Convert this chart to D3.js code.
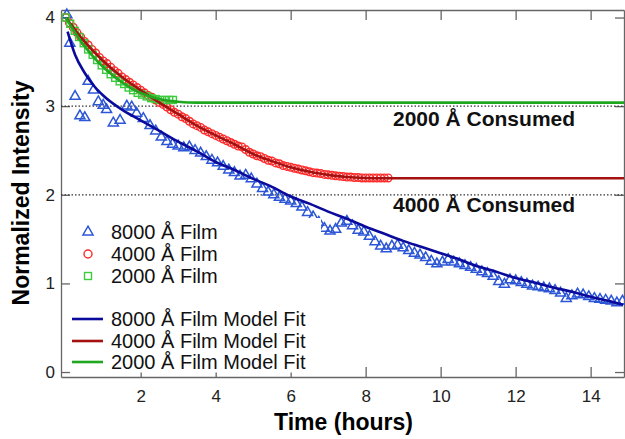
<!DOCTYPE html>
<html>
<head>
<meta charset="utf-8">
<script src="https://cdn.jsdelivr.net/npm/d3@7"></script>
<style>
  body { margin: 0; background: #fff; }
  svg text { font-family: "Liberation Sans", Arial, Helvetica, sans-serif; }
</style>
</head>
<body>
<div id="chart"></div>
<script>
// Tick values
var xTicks = [2, 4, 6, 8, 10, 12, 14];
var yTicks = [0, 1, 2, 3, 4];

// Horizontal reference levels and their labels
var consumedLevels = [3, 2];
var consumedLabels = ["2000 Å Consumed", "4000 Å Consumed"];

// Legend labels
var markerLabels = ["8000 Å Film", "4000 Å Film", "2000 Å Film"];
var fitLabels = ["8000 Å Film Model Fit", "4000 Å Film Model Fit", "2000 Å Film Model Fit"];

// 8000 A film data [hours, intensity]
var film8000 = [
  [0.03, 4.03], [0.11, 3.71], [0.25, 3.11], [0.38, 2.89], [0.51, 2.87], [0.60, 3.28],
  [0.74, 3.18], [0.87, 3.05], [1.00, 3.01], [1.09, 2.96], [1.27, 2.81], [1.45, 2.84],
  [1.63, 3.00], [1.76, 2.99], [1.89, 2.92], [2.07, 2.86], [2.25, 2.78], [2.40, 2.72],
  [2.55, 2.65], [2.70, 2.60], [2.85, 2.57], [3.00, 2.55], [3.15, 2.53], [3.30, 2.54],
  [3.45, 2.50], [3.60, 2.47], [3.75, 2.43], [3.90, 2.39], [4.05, 2.36], [4.20, 2.32],
  [4.35, 2.28], [4.50, 2.25], [4.65, 2.21], [4.80, 2.22], [4.95, 2.18], [5.10, 2.12],
  [5.25, 2.07], [5.40, 2.03], [5.55, 2.00], [5.70, 1.97], [5.85, 1.95], [6.00, 1.93],
  [6.15, 1.90], [6.30, 1.86], [6.45, 1.80], [6.60, 1.75], [6.75, 1.69], [6.90, 1.62],
  [7.05, 1.59], [7.20, 1.61], [7.35, 1.68], [7.50, 1.70], [7.65, 1.65], [7.80, 1.60],
  [7.95, 1.58], [8.10, 1.53], [8.25, 1.47], [8.40, 1.42], [8.55, 1.39], [8.70, 1.42],
  [8.85, 1.43], [9.00, 1.40], [9.15, 1.37], [9.30, 1.34], [9.45, 1.32], [9.60, 1.29],
  [9.75, 1.25], [9.90, 1.22], [10.05, 1.24], [10.20, 1.27], [10.35, 1.24], [10.50, 1.22],
  [10.65, 1.20], [10.80, 1.18], [10.95, 1.16], [11.10, 1.13], [11.25, 1.11], [11.40, 1.08],
  [11.55, 1.02], [11.70, 0.99], [11.85, 1.04], [12.00, 1.03], [12.15, 1.01], [12.30, 0.99],
  [12.45, 0.97], [12.60, 0.96], [12.75, 0.95], [12.90, 0.94], [13.05, 0.92], [13.20, 0.89],
  [13.35, 0.83], [13.50, 0.86], [13.65, 0.88], [13.80, 0.87], [13.95, 0.85], [14.10, 0.83],
  [14.25, 0.82], [14.40, 0.81], [14.55, 0.80], [14.70, 0.78], [14.85, 0.80]
];

// 4000 A film data
var film4000 = [
  [0.0, 4.00], [0.1, 3.94], [0.2, 3.89], [0.3, 3.83], [0.4, 3.78], [0.5, 3.73],
  [0.6, 3.69], [0.7, 3.64], [0.8, 3.60], [0.9, 3.55], [1.0, 3.51], [1.1, 3.48],
  [1.2, 3.44], [1.3, 3.40], [1.4, 3.37], [1.5, 3.33], [1.6, 3.30], [1.7, 3.27],
  [1.8, 3.24], [1.9, 3.21], [2.0, 3.18], [2.1, 3.15], [2.2, 3.12], [2.3, 3.10],
  [2.4, 3.07], [2.5, 3.04], [2.6, 3.02], [2.7, 2.99], [2.8, 2.96], [2.9, 2.93],
  [3.0, 2.91], [3.1, 2.88], [3.2, 2.86], [3.3, 2.83], [3.4, 2.80], [3.5, 2.78],
  [3.6, 2.76], [3.7, 2.73], [3.8, 2.71], [3.9, 2.69], [4.0, 2.67], [4.1, 2.65],
  [4.2, 2.63], [4.3, 2.61], [4.4, 2.59], [4.5, 2.57], [4.6, 2.55], [4.7, 2.54],
  [4.8, 2.51], [4.9, 2.48], [5.0, 2.46], [5.1, 2.44], [5.2, 2.43], [5.3, 2.41],
  [5.4, 2.39], [5.5, 2.38], [5.6, 2.36], [5.7, 2.35], [5.8, 2.33], [5.9, 2.32],
  [6.0, 2.31], [6.1, 2.30], [6.2, 2.29], [6.3, 2.28], [6.4, 2.27], [6.5, 2.26],
  [6.6, 2.25], [6.7, 2.245], [6.8, 2.24], [6.9, 2.23], [7.0, 2.225], [7.1, 2.22],
  [7.2, 2.215], [7.3, 2.21], [7.4, 2.205], [7.5, 2.20], [7.6, 2.20], [7.7, 2.195],
  [7.8, 2.195], [7.9, 2.19], [8.0, 2.19], [8.1, 2.19], [8.2, 2.19], [8.3, 2.19],
  [8.4, 2.19], [8.5, 2.19], [8.6, 2.19]
];

// 2000 A film data
var film2000 = [
  [0.00, 4.00], [0.12, 3.93], [0.24, 3.85], [0.36, 3.78], [0.48, 3.71], [0.60, 3.64],
  [0.72, 3.58], [0.84, 3.52], [0.96, 3.46], [1.08, 3.41], [1.20, 3.36], [1.32, 3.32],
  [1.44, 3.28], [1.56, 3.25], [1.68, 3.21], [1.80, 3.18], [1.92, 3.15], [2.04, 3.13],
  [2.16, 3.11], [2.28, 3.09], [2.40, 3.08], [2.52, 3.07], [2.64, 3.07], [2.76, 3.07],
  [2.86, 3.07]
];

// Model fits
var fit8000 = [
  [0.05, 3.84], [0.25, 3.58], [0.5, 3.38], [0.75, 3.23], [1.0, 3.12], [1.5, 2.96],
  [2.0, 2.84], [2.5, 2.72], [3.0, 2.60], [3.5, 2.49], [4.0, 2.37], [4.5, 2.28],
  [5.0, 2.18], [5.5, 2.09], [6.0, 1.98], [6.5, 1.90], [7.0, 1.81], [7.5, 1.73],
  [8.0, 1.64], [8.5, 1.56], [9.0, 1.48], [9.5, 1.41], [10.0, 1.34], [10.5, 1.27],
  [11.0, 1.19], [11.5, 1.13], [12.0, 1.06], [12.5, 1.01], [13.0, 0.955], [13.5, 0.905],
  [14.0, 0.85], [14.5, 0.80], [14.87, 0.76]
];
var fit4000 = [
  [0.0, 4.00], [0.25, 3.86], [0.5, 3.73], [1.0, 3.51], [1.5, 3.33], [2.0, 3.18],
  [2.5, 3.04], [3.0, 2.91], [3.5, 2.78], [4.0, 2.67], [4.5, 2.57], [5.0, 2.46],
  [5.5, 2.38], [6.0, 2.31], [6.5, 2.26], [7.0, 2.225], [7.5, 2.20], [8.0, 2.19],
  [8.5, 2.187], [14.89, 2.187]
];
var fit2000 = [
  [0.0, 4.00], [0.25, 3.83], [0.5, 3.68], [0.75, 3.55], [1.0, 3.44], [1.25, 3.35],
  [1.5, 3.27], [1.75, 3.20], [2.0, 3.15], [2.25, 3.11], [2.5, 3.08], [2.75, 3.06],
  [3.0, 3.05], [3.5, 3.04], [14.89, 3.04]
];

var svgWidth = 625;
var svgHeight = 439;
var plotLeft = 61, plotRight = 624, plotTop = 10, plotBottom = 377;

var svg = d3.select("#chart")
  .append("svg")
  .attr("width", svgWidth)
  .attr("height", svgHeight);

var x = d3.scaleLinear().domain([-0.125, 14.89]).range([plotLeft, plotRight]);
var y = d3.scaleLinear().domain([-0.056, 4.085]).range([plotBottom, plotTop]);

var axisColor = "#666";

function styleAxis(g) {
  g.select(".domain").attr("stroke", axisColor).attr("stroke-width", 1.3).attr("fill", "none");
  g.selectAll(".tick line").attr("stroke", axisColor).attr("stroke-width", 1.3);
  g.selectAll(".tick text").attr("fill", "#222").style("font-size", "17px")
    .style("font-family", "'Liberation Sans', Arial, Helvetica, sans-serif");
}

// Frame with inward ticks on all four sides
svg.append("g")
  .attr("transform", `translate(0, ${plotBottom})`)
  .call(d3.axisBottom(x).tickValues(xTicks).tickSizeInner(-10).tickSizeOuter(0).tickPadding(13).tickFormat(d3.format("d")))
  .call(styleAxis);

svg.append("g")
  .attr("transform", `translate(0, ${plotTop})`)
  .call(d3.axisTop(x).tickValues(xTicks).tickSizeInner(-10).tickSizeOuter(0).tickFormat(""))
  .call(styleAxis);

svg.append("g")
  .attr("transform", `translate(${plotLeft}, 0)`)
  .call(d3.axisLeft(y).tickValues(yTicks).tickSizeInner(-9).tickSizeOuter(0).tickPadding(6).tickFormat(d3.format("d")))
  .call(styleAxis);

svg.append("g")
  .attr("transform", `translate(${plotRight}, 0)`)
  .call(d3.axisRight(y).tickValues(yTicks).tickSizeInner(-9).tickSizeOuter(0).tickFormat(""))
  .call(styleAxis);

// Dotted reference lines
svg.selectAll(".refline")
  .data(consumedLevels)
  .enter()
  .append("line")
  .attr("class", "refline")
  .attr("x1", plotLeft)
  .attr("x2", plotRight)
  .attr("y1", d => y(d))
  .attr("y2", d => y(d))
  .attr("stroke", "#333")
  .attr("stroke-width", 1.3)
  .attr("stroke-dasharray", "1.5,2");

// Markers
var blueMark = "#2c56d6";
var redMark = "#ff2a2a";
var greenMark = "#3ccb3c";

var tri = d3.symbol().type(d3.symbolTriangle).size(44);

svg.append("g").selectAll("path")
  .data(film8000)
  .enter()
  .append("path")
  .attr("d", tri)
  .attr("transform", d => `translate(${x(d[0])}, ${y(d[1])})`)
  .attr("fill", "none")
  .attr("stroke", blueMark)
  .attr("stroke-width", 1.5);

svg.append("g").selectAll("circle")
  .data(film4000)
  .enter()
  .append("circle")
  .attr("cx", d => x(d[0]))
  .attr("cy", d => y(d[1]))
  .attr("r", 3.8)
  .attr("fill", "none")
  .attr("stroke", redMark)
  .attr("stroke-width", 1.4);

svg.append("g").selectAll("rect")
  .data(film2000)
  .enter()
  .append("rect")
  .attr("x", d => x(d[0]) - 3.5)
  .attr("y", d => y(d[1]) - 3.5)
  .attr("width", 7)
  .attr("height", 7)
  .attr("fill", "none")
  .attr("stroke", greenMark)
  .attr("stroke-width", 1.4);

// Fit lines
var blueFit = "#0a0a9c";
var redFit = "#a51010";
var greenFit = "#1fa81f";

var line = d3.line()
  .x(d => x(d[0]))
  .y(d => y(d[1]))
  .curve(d3.curveMonotoneX);

[[fit8000, blueFit], [fit4000, redFit], [fit2000, greenFit]].forEach(function(f) {
  svg.append("path")
    .datum(f[0])
    .attr("d", line)
    .attr("fill", "none")
    .attr("stroke", f[1])
    .attr("stroke-width", 2.6);
});

// Annotations
svg.selectAll(".consumed")
  .data(consumedLabels)
  .enter()
  .append("text")
  .attr("class", "consumed")
  .attr("x", 393)
  .attr("y", (d, i) => [126, 212][i])
  .style("font-size", "21px")
  .style("font-weight", "bold")
  .attr("fill", "#111")
  .text(d => d);

// Legend (white box hides the ticks behind it)
svg.append("rect")
  .attr("x", 71)
  .attr("y", 218)
  .attr("width", 250)
  .attr("height", 154.5)
  .attr("fill", "#fff");

var legend = svg.append("g");
var markerRows = [232, 254, 276];
var fitRows = [319, 341, 362];

legend.append("path")
  .attr("d", tri)
  .attr("transform", `translate(88, ${markerRows[0]})`)
  .attr("fill", "none").attr("stroke", blueMark).attr("stroke-width", 1.5);
legend.append("circle")
  .attr("cx", 88).attr("cy", markerRows[1]).attr("r", 4)
  .attr("fill", "none").attr("stroke", redMark).attr("stroke-width", 1.4);
legend.append("rect")
  .attr("x", 84.5).attr("y", markerRows[2] - 3.5).attr("width", 7).attr("height", 7)
  .attr("fill", "none").attr("stroke", greenMark).attr("stroke-width", 1.4);

legend.selectAll(".mlab")
  .data(markerLabels)
  .enter()
  .append("text")
  .attr("x", 111)
  .attr("y", (d, i) => markerRows[i] + 7)
  .style("font-size", "20px")
  .attr("fill", "#111")
  .text(d => d);

legend.selectAll(".fline")
  .data([blueFit, redFit, greenFit])
  .enter()
  .append("line")
  .attr("x1", 72).attr("x2", 103)
  .attr("y1", (d, i) => fitRows[i])
  .attr("y2", (d, i) => fitRows[i])
  .attr("stroke", d => d)
  .attr("stroke-width", 2.6);

legend.selectAll(".flab")
  .data(fitLabels)
  .enter()
  .append("text")
  .attr("x", 111)
  .attr("y", (d, i) => fitRows[i] + 7)
  .style("font-size", "20px")
  .attr("fill", "#111")
  .text(d => d);

// Axis titles
svg.append("text")
  .attr("x", 343.5)
  .attr("y", 430)
  .attr("text-anchor", "middle")
  .style("font-size", "23px")
  .style("font-weight", "bold")
  .text("Time (hours)");

svg.append("text")
  .attr("transform", "translate(29, 193) rotate(-90)")
  .attr("text-anchor", "middle")
  .style("font-size", "23px")
  .style("font-weight", "bold")
  .text("Normalized Intensity");
</script>
</body>
</html>
